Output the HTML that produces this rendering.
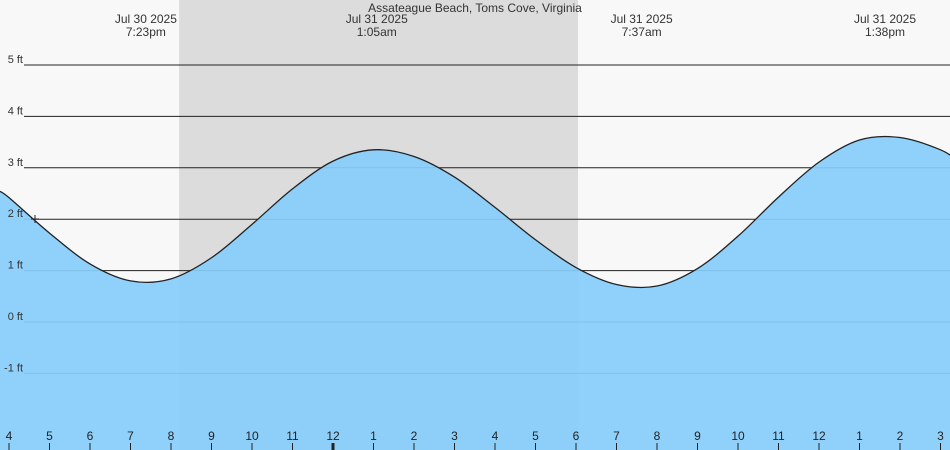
<!DOCTYPE html>
<html><head><meta charset="utf-8"><style>
html,body{margin:0;padding:0;background:#f8f8f8}
svg{display:block;font-family:"Liberation Sans",sans-serif}
</style></head><body>
<svg id="chart" width="950" height="450" viewBox="0 0 950 450">
<rect x="0" y="0" width="950" height="450" fill="#f8f8f8"/>
<g id="shade"></g><g id="grid"></g><g id="area"></g><g id="xaxis"></g><g id="labels"></g>
<text x="475" y="12" text-anchor="middle" font-size="12" fill="#333">Assateague Beach, Toms Cove, Virginia</text>
</svg>
<script>
// hours after 4pm Jul 30
const hours = [-0.25,0,1,2,3,4,5,6,7,8,9,10,11,12,13,14,15,16,17,18,19,20,21,22,23,23.5];
const heights = [2.55,2.42,1.73,1.13,0.80,0.84,1.25,1.90,2.59,3.13,3.35,3.22,2.82,2.23,1.60,1.06,0.73,0.70,1.04,1.67,2.43,3.11,3.54,3.59,3.35,3.1];
const yTicks = [5,4,3,2,1,0,-1];
const hourLabels = ["4","5","6","7","8","9","10","11","12","1","2","3","4","5","6","7","8","9","10","11","12","1","2","3"];
const extremeTimes = [3.38,9.08,15.62,21.63];
const extremeDates = ["Jul 30 2025","Jul 31 2025","Jul 31 2025","Jul 31 2025"];
const extremeLabels = ["7:23pm","1:05am","7:37am","1:38pm"];
const nightStart = 4.2, nightEnd = 14.05;

const X = h => 9 + h*40.5;
const Y = v => 322 - v*51.4;
const NS="http://www.w3.org/2000/svg";
function mk(tag, parent, attrs){const e=document.createElementNS(NS,tag);for(const k in attrs)e.setAttribute(k,attrs[k]);document.getElementById(parent).appendChild(e);return e;}

let s=mk('rect','shade',{x:X(nightStart),y:0,width:X(nightEnd)-X(nightStart),height:450,fill:'#dcdcdc'});



yTicks.forEach(v=>{
  const l=mk('line','grid',{x1:24,x2:950,y1:Y(v),y2:Y(v),stroke:'#222','stroke-width':1});
  
  
  const t=mk('text','labels',{x:23,y:Y(v)-2,'text-anchor':'end','font-size':11,fill:'#333'});
  t.textContent=v+' ft';
  
  
});

// smooth path (catmull-rom)
const pts=hours.map((h,i)=>[X(h),Y(heights[i])]);
let d='M'+pts[0][0]+','+pts[0][1];
for(let i=0;i<pts.length-1;i++){
  const p0=pts[Math.max(0,i-1)],p1=pts[i],p2=pts[i+1],p3=pts[Math.min(pts.length-1,i+2)];
  const c1=[p1[0]+(p2[0]-p0[0])/6,p1[1]+(p2[1]-p0[1])/6];
  const c2=[p2[0]-(p3[0]-p1[0])/6,p2[1]-(p3[1]-p1[1])/6];
  d+=' C'+c1+' '+c2+' '+p2;
}
const last=pts[pts.length-1];
let a=mk('path','area',{d:d+' L'+last[0]+',450 L'+pts[0][0]+',450 Z',fill:'rgba(135,205,251,0.93)'});


let ln=mk('path','area',{d:d,fill:'none',stroke:'#222','stroke-width':1.3});


let mkp=mk('path','area',{d:'M31,219 h8 M35,215 v8',stroke:'#222','stroke-width':1});



hourLabels.forEach((lab,i)=>{
  const x=X(i);
  const t=mk('text','xaxis',{x:x,y:440,'text-anchor':'middle','font-size':12,fill:'#222'});
  t.textContent=lab;
  
  
  const k=mk('line','xaxis',{x1:x,x2:x,y1:443,y2:450,stroke:'#222','stroke-width':lab==='12'&&i===8?3:1});
  
  
});

extremeTimes.forEach((h,i)=>{
  const t1=mk('text','labels',{x:X(h),y:23,'text-anchor':'middle','font-size':12,fill:'#333'});
  t1.textContent=extremeDates[i];
  
  
  const t2=mk('text','labels',{x:X(h),y:36,'text-anchor':'middle','font-size':12,fill:'#333'});
  t2.textContent=extremeLabels[i];
  
  
});
</script>
</body></html>
